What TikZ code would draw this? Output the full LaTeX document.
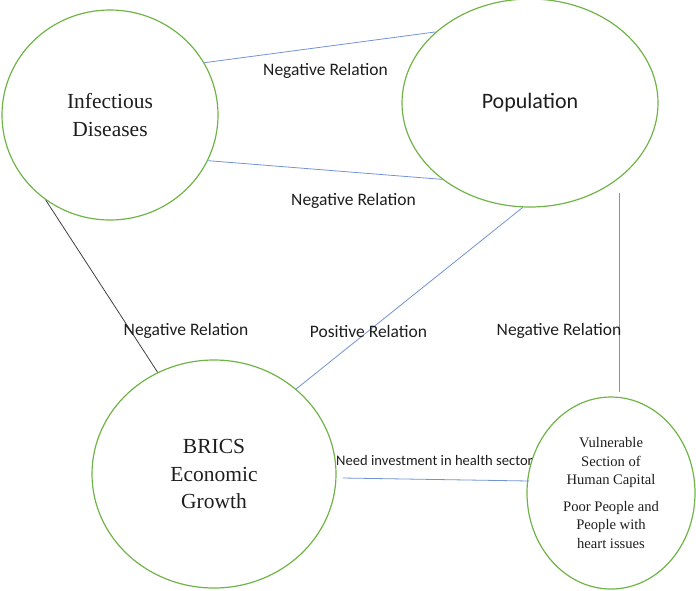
\documentclass[tikz,border=0pt]{standalone}
\usepackage{fontspec}
\setmainfont{Liberation Serif}
\newfontfamily\calib{Carlito}
\usetikzlibrary{shapes.geometric}
\definecolor{offgreen}{RGB}{112,180,71}
\definecolor{offblue}{RGB}{114,147,212}
\definecolor{txt}{RGB}{30,30,30}
\begin{document}
\begin{tikzpicture}[x=1pt,y=-1pt,
  bubble/.style={ellipse,draw=offgreen,line width=1.2pt,inner sep=0pt,align=center,text=txt},
  link/.style={draw=offblue,line width=0.8pt},
  blink/.style={draw=black!75,line width=0.8pt},
  rel/.style={font=\calib\fontsize{17.5}{21}\selectfont,text=txt,inner sep=0pt},
  serifbig/.style={font=\fontsize{21.5}{27.5}\selectfont},
  serifsmall/.style={font=\fontsize{14.6}{18.3}\selectfont}]
\useasboundingbox (0,0) rectangle (696,590);
\node[bubble,serifbig,minimum width=216pt,minimum height=210pt] (id) at (110,115) {Infectious\\Diseases};
\node[bubble,font=\calib\fontsize{22}{26}\selectfont,minimum width=256pt,minimum height=208pt] (pop) at (530,103) {Population};
\node[bubble,serifbig,minimum width=244pt,minimum height=228pt] (brics) at (214,474) {BRICS\\Economic\\Growth};
\node[bubble,serifsmall,minimum width=168pt,minimum height=192pt] (vul) at (611,493) {Vulnerable\\Section of\\Human Capital\\[9pt]Poor People and\\People with\\heart issues};
\coordinate (v1) at (619,193);
\draw[link] (id.29.6) -- (pop.143.8);
\draw[link] (id.-25.9) -- (pop.221.9);
\draw[blink] (id.233) -- (brics.119.6);
\draw[link] (pop.266) -- (brics.46.7);
\draw[link] (v1) -- ([yshift=4pt]v1 |- vul.north);
\draw[link] ([xshift=6pt,yshift=-4pt]brics.east) -- ([xshift=3pt,yshift=12pt]vul.west);
\node[rel] (l1) at (325.5,71) {Negative Relation};
\node[rel] (l2) at (353.5,201) {Negative Relation};
\node[rel] (l3) at (186,331) {Negative Relation};
\node[rel] (l4) at (368.5,331) {Positive Relation};
\node[rel] (l5) at (559,331) {Negative Relation};
\node[rel,font=\calib\fontsize{14.6}{18}\selectfont] (l6) at (434.5,460) {Need investment in health sector};
\end{tikzpicture}
\end{document}
